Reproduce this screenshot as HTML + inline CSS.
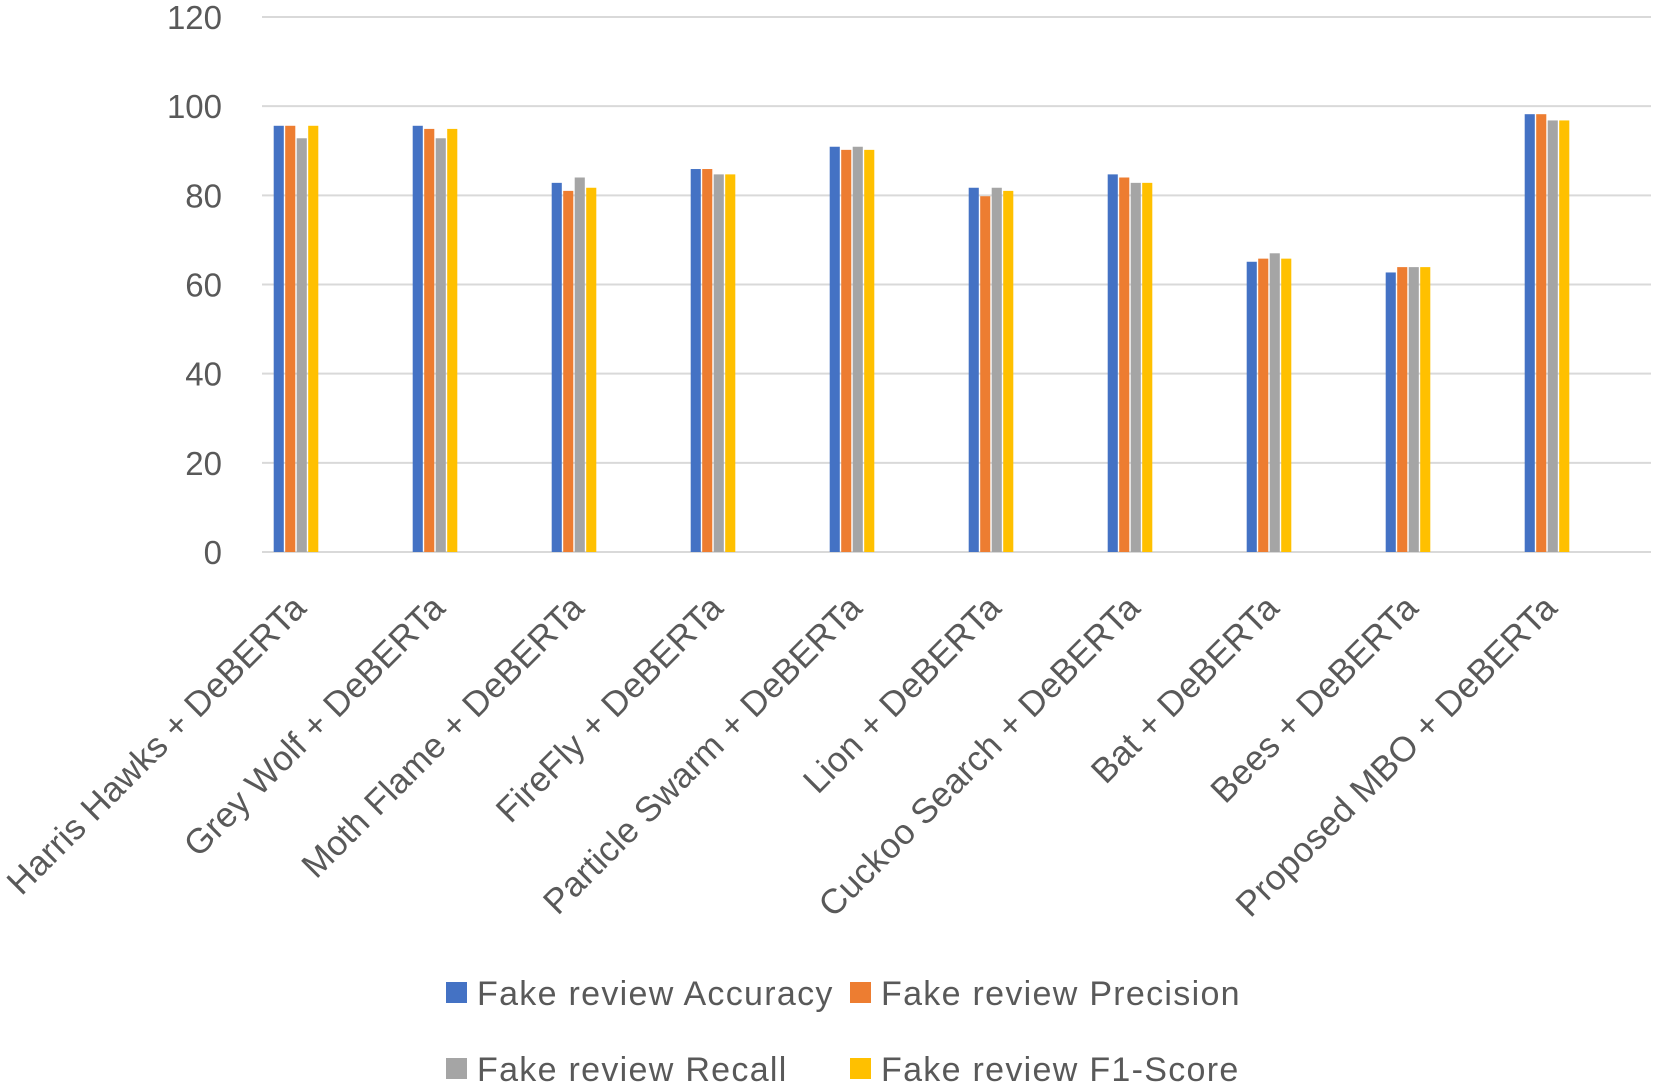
<!DOCTYPE html>
<html><head><meta charset="utf-8"><style>
html,body{margin:0;padding:0;background:#fff;}
svg{display:block;font-family:"Liberation Sans",sans-serif;}
</style></head><body>
<svg id="chart" width="1654" height="1086" viewBox="0 0 1654 1086" xmlns="http://www.w3.org/2000/svg"></svg>
<script>
const categories=["Harris Hawks + DeBERTa","Grey Wolf + DeBERTa","Moth Flame + DeBERTa","FireFly + DeBERTa","Particle Swarm + DeBERTa","Lion + DeBERTa","Cuckoo Search + DeBERTa","Bat + DeBERTa","Bees + DeBERTa","Proposed MBO + DeBERTa"];
const accuracy=[95.6,95.6,82.8,85.9,90.9,81.7,84.7,65.1,62.7,98.2];
const precision=[95.6,94.9,81,85.9,90.2,79.8,84,65.8,63.9,98.2];
const recall=[92.8,92.8,84,84.7,90.9,81.7,82.8,67,63.9,96.8];
const f1=[95.6,94.9,81.7,84.7,90.2,81,82.8,65.8,63.9,96.8];
const yTicks=[0,20,40,60,80,100,120];
const seriesNames=["Fake review Accuracy","Fake review Precision","Fake review Recall","Fake review F1-Score"];

const NS="http://www.w3.org/2000/svg";
const svg=document.getElementById('chart');
const colors=["#4472c4","#ed7d31","#a5a5a5","#ffc000"];
const series=[accuracy,precision,recall,f1];
const y0=552,yTop=17,yMax=120,left=262,right=1651;
const yScale=v=>y0-(v/yMax)*(y0-yTop);
const xCenter=i=>296+i*139;
const bw=11.5;
function mk(tag,attrs){const e=document.createElementNS(NS,tag);for(const k in attrs)e.setAttribute(k,attrs[k]);svg.appendChild(e);return e;}
yTicks.forEach(t=>{
  const g=mk('line',{x1:left,x2:right,y1:yScale(t),y2:yScale(t),stroke:'#d9d9d9','stroke-width':2});
  
  
  const tx=mk('text',{x:222,y:yScale(t)+12,'text-anchor':'end','font-size':33,fill:'#595959'});
  tx.textContent=t;
  
  
});
categories.forEach((c,i)=>{
  series.forEach((s,j)=>{
    const x=xCenter(i)-2*bw+j*bw;
    const r=mk('rect',{x:x+0.7,y:yScale(s[i]),width:bw-1.4,height:y0-yScale(s[i]),fill:colors[j]});
    
    
  });
  const ax=xCenter(i)+12,ay=610;
  const t=mk('text',{x:ax,y:ay,'text-anchor':'end','font-size':35,'letter-spacing':0.2,fill:'#595959',transform:`rotate(-45 ${ax} ${ay})`});
  t.textContent=c;
  
  
});
const legPos=[[446,993],[850,993],[446,1069],[850,1069]];
seriesNames.forEach((n,j)=>{
  const [x,y]=legPos[j];
  const r=mk('rect',{x:x,y:y-11,width:21,height:21,fill:colors[j]});
  
  
  const t=mk('text',{x:x+31,y:y+12,'font-size':34,'letter-spacing':1.3,fill:'#595959'});
  t.textContent=n;
  
  
});
</script>
</body></html>
